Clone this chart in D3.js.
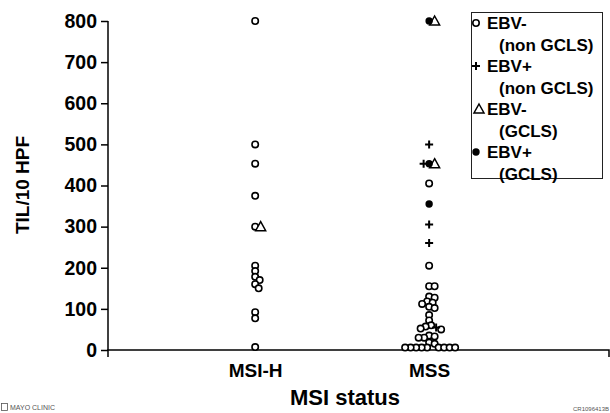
<!DOCTYPE html>
<html>
<head>
<meta charset="utf-8">
<script src="https://cdn.jsdelivr.net/npm/d3@7"></script>
<style>
  body { margin: 0; background: #fff; }
  svg { display: block; font-family: "Liberation Sans", Arial, sans-serif; font-weight: bold; }
</style>
</head>
<body>
<script>
// TIL count by MSI status, dot plot

var categories = ["MSI-H", "MSS"];
var yTicks = [0, 100, 200, 300, 400, 500, 600, 700, 800];

// values (TIL / 10 HPF)
var msihEbvNeg = [800, 500, 453, 375, 300, 205, 192, 178, 170, 160, 150, 92, 77, 7];
var msihEbvNegGcls = [300];
var mssEbvNeg = [405, 205, 155, 155, 130, 127, 118, 115, 112, 105, 102, 85, 72,
                 60, 57, 52, 50, 35, 33, 30, 30, 18, 15,
                 6, 6, 6, 6, 6, 6, 6, 6, 6];
var mssEbvPos = [500, 453, 305, 260, 55];
var mssEbvNegGcls = [800, 453];
var mssEbvPosGcls = [800, 453, 355];

var legendItems = [
    {type: "circle", lines: ["EBV-", "(non GCLS)"]},
    {type: "plus", lines: ["EBV+", "(non GCLS)"]},
    {type: "triangle", lines: ["EBV-", "(GCLS)"]},
    {type: "dot", lines: ["EBV+", "(GCLS)"]}
];

var width = 610,
    height = 413;

var svg = d3.select("body")
    .append("svg")
    .attr("width", width)
    .attr("height", height);

var x = d3.scalePoint()
    .domain(categories)
    .range([108, 609])
    .padding(0.94)
    .align(0.45);

var y = d3.scaleLinear()
    .domain([0, 800])
    .range([350, 21]);

// y axis
var yAxis = svg.append("g")
    .attr("transform", "translate(108,0)")
    .call(d3.axisLeft(y).tickValues(yTicks).tickSize(7).tickPadding(4));
yAxis.select(".domain").attr("d", "M0," + y(0) + "V" + y(800)).attr("stroke-width", 1.5);
yAxis.selectAll(".tick line").attr("stroke-width", 1.5);
yAxis.selectAll("text").attr("font-size", 19.5).attr("font-weight", "bold").attr("font-family", "Liberation Sans, Arial, sans-serif");

// x axis
var xAxis = svg.append("g")
    .attr("transform", "translate(0," + y(0) + ")")
    .call(d3.axisBottom(x).tickSize(0).tickPadding(14));
xAxis.select(".domain").attr("d", "M108,7V0H609V7").attr("stroke-width", 1.5);
xAxis.selectAll("text").attr("font-size", 19).attr("font-weight", "bold").attr("font-family", "Liberation Sans, Arial, sans-serif");

// titles
svg.append("text")
    .attr("x", 345)
    .attr("y", 405)
    .attr("text-anchor", "middle")
    .attr("font-size", 22)
    .text("MSI status");

svg.append("text")
    .attr("transform", "translate(29,185) rotate(-90)")
    .attr("text-anchor", "middle")
    .attr("font-size", 19)
    .text("TIL/10 HPF");

// build points
var points = [];
function addPoints(values, group, type){
    values.forEach(function(v){
        points.push({group: group, type: type, value: v});
    });
}
addPoints(msihEbvNeg, "MSI-H", "circle");
addPoints(msihEbvNegGcls, "MSI-H", "triangle");
addPoints(mssEbvNeg, "MSS", "circle");
addPoints(mssEbvPos, "MSS", "plus");
addPoints(mssEbvNegGcls, "MSS", "triangle");
addPoints(mssEbvPosGcls, "MSS", "dot");

// simple dodge so overlapping points spread sideways
var typeOrder = {dot: 0, circle: 1, triangle: 2, plus: 3};
points.sort(function(a, b){
    return (b.value - a.value) || (typeOrder[a.type] - typeOrder[b.type]);
});
var minDist = 5.2;
var placed = {};
points.forEach(function(p){
    var list = placed[p.group] || (placed[p.group] = []);
    p.py = y(p.value);
    var cx = x(p.group);
    for (var k = 0; k < 200; k++){
        var off = (k % 2 === 1 ? 1 : -1) * Math.ceil(k / 2) * 0.5;
        var ok = list.every(function(q){
            var dx = cx + off - q.px, dy = p.py - q.py;
            return dx * dx + dy * dy >= minDist * minDist;
        });
        if (ok){ p.px = cx + off; break; }
    }
    list.push(p);
});

function drawSymbol(g, type){
    if (type === "circle"){
        g.append("circle").attr("r", 3.2).attr("fill", "#fff").attr("stroke", "#000").attr("stroke-width", 1.6);
    } else if (type === "dot"){
        g.append("circle").attr("r", 3.7).attr("fill", "#000");
    } else if (type === "plus"){
        g.append("path").attr("d", "M-4,0H4M0,-4V4").attr("stroke", "#000").attr("stroke-width", 2);
    } else {
        g.append("path").attr("d", "M0,-5L5,4H-5Z").attr("fill", "#fff").attr("stroke", "#000").attr("stroke-width", 1.5);
    }
}

// circles first so others sit on top
var drawOrder = {circle: 0, triangle: 1, plus: 2, dot: 3};
var marks = svg.append("g").selectAll(".pt")
    .data(points.slice().sort(function(a, b){ return drawOrder[a.type] - drawOrder[b.type]; }))
    .enter()
    .append("g")
    .attr("class", "pt")
    .attr("transform", function(d){ return "translate(" + d.px + "," + d.py + ")"; });
marks.each(function(d){ drawSymbol(d3.select(this), d.type); });

// legend
var legend = svg.append("g");
legend.append("rect")
    .attr("x", 471.5).attr("y", 12.5)
    .attr("width", 131).attr("height", 166)
    .attr("fill", "#fff").attr("stroke", "#222").attr("stroke-width", 1);

var lineStep = 21.5;
legendItems.forEach(function(item, i){
    var cy = 23 + i * 2 * lineStep;
    var sym = legend.append("g").attr("transform", "translate(" + (item.type === "triangle" ? 479 : 476) + "," + cy + ")");
    drawSymbol(sym, item.type);
    legend.append("text").attr("x", 487).attr("y", cy + 6).attr("font-size", 17).text(item.lines[0]);
    legend.append("text").attr("x", 499).attr("y", cy + lineStep + 6).attr("font-size", 17).text(item.lines[1]);
});

// footer marks
svg.append("rect").attr("x", 1.5).attr("y", 403.5).attr("width", 6).attr("height", 7)
    .attr("fill", "none").attr("stroke", "#555").attr("stroke-width", 0.8);
svg.append("text").attr("x", 10).attr("y", 410).attr("font-size", 7).attr("font-weight", "normal")
    .attr("fill", "#555").text("MAYO CLINIC");
svg.append("text").attr("x", 609).attr("y", 411).attr("text-anchor", "end").attr("font-size", 6)
    .attr("font-weight", "normal").attr("fill", "#555").text("CR1096413B");
</script>
</body>
</html>
